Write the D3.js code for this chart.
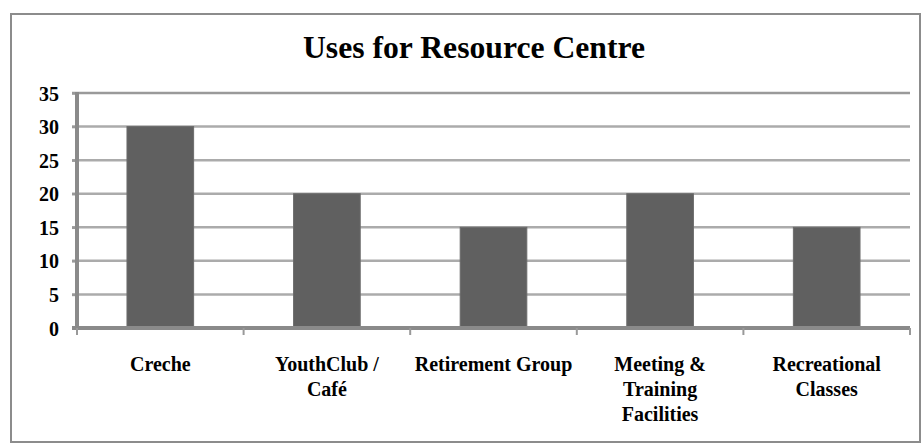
<!DOCTYPE html>
<html>
<head>
<meta charset="utf-8">
<script src="https://cdn.jsdelivr.net/npm/d3@7"></script>
<style>
  html, body { margin: 0; padding: 0; background: #fff; }
  svg { display: block; }
</style>
</head>
<body>
<svg id="chart" width="922" height="446"></svg>
<script>
const title = "Uses for Resource Centre";
const categories = ["Creche", "Youth Club / Café", "Retirement Group", "Meeting & Training Facilities", "Recreational Classes"];
const categoryLines = [["Creche"], ["YouthClub /", "Café"], ["Retirement Group"], ["Meeting &", "Training", "Facilities"], ["Recreational", "Classes"]];
const values = [30, 20, 15, 20, 15];
const yTicks = [0, 5, 10, 15, 20, 25, 30, 35];

const FONT = "'Liberation Serif', 'DejaVu Serif', serif";
const svg = d3.select("#chart");
const W = 922, H = 446;
const margin = { left: 77, right: 12, top: 93, bottom: 118 };
const plotW = W - margin.left - margin.right;
const plotH = H - margin.top - margin.bottom;

// outer frame
svg.append("rect")
  .attr("x", 11).attr("y", 14).attr("width", 909).attr("height", 428)
  .attr("fill", "#fff").attr("stroke", "#8c8c8c").attr("stroke-width", 2);

// title
svg.append("text")
  .attr("x", 474).attr("y", 58)
  .attr("text-anchor", "middle")
  .style("font-family", FONT).style("font-weight", "bold").style("font-size", "31px")
  .attr("fill", "#000")
  .attr("textLength", 342)
  .attr("lengthAdjust", "spacingAndGlyphs")
  .text(title);

const g = svg.append("g").attr("transform", `translate(${margin.left},${margin.top})`);

const x = d3.scaleBand().domain(categories).range([0, plotW]).paddingInner(0.6).paddingOuter(0.3);
const xb = d3.scaleBand().domain(categories).range([0, plotW]);
const y = d3.scaleLinear().domain([0, 35]).range([plotH, 0]);

// gridlines
g.append("g").selectAll("line").data(yTicks.filter(d => d > 0)).join("line")
  .attr("x1", -5).attr("x2", plotW)
  .attr("y1", d => y(d)).attr("y2", d => y(d))
  .attr("stroke", d => d === 35 ? "#9a9a9a" : "#ababab")
  .attr("stroke-width", 2.5);

// bars
g.append("g").selectAll("rect").data(values).join("rect")
  .attr("x", (d, i) => x(categories[i]))
  .attr("y", d => y(d))
  .attr("width", x.bandwidth())
  .attr("height", d => y(0) - y(d))
  .attr("fill", "#606060")
  .attr("stroke", "#6c6c6c")
  .attr("stroke-width", 1);

// y axis
const yAxis = d3.axisLeft(y).tickValues(yTicks).tickSize(5).tickPadding(13);
const ya = g.append("g").call(yAxis);
ya.select(".domain").remove();
ya.selectAll(".tick line").attr("stroke", "#999").attr("stroke-width", 2.5);
ya.selectAll(".tick text")
  .style("font-family", FONT)
  .style("font-weight", "bold")
  .style("font-size", "20px")
  .attr("fill", "#000")
  .attr("dy", "0.35em");

g.append("line")
  .attr("x1", 0).attr("x2", 0).attr("y1", y(35) - 1).attr("y2", y(0) + 2)
  .attr("stroke", "#8a8a8a").attr("stroke-width", 4);

// x axis
g.append("line")
  .attr("x1", -5).attr("x2", plotW).attr("y1", y(0)).attr("y2", y(0))
  .attr("stroke", "#8a8a8a").attr("stroke-width", 4);

const boundaries = categories.map(c => xb(c)).concat([plotW]);
g.append("g").selectAll("line").data(boundaries).join("line")
  .attr("x1", d => d).attr("x2", d => d)
  .attr("y1", y(0)).attr("y2", y(0) + 7)
  .attr("stroke", "#999").attr("stroke-width", 2);

// category labels
const lab = g.append("g").selectAll("text").data(categories).join("text")
  .attr("x", c => xb(c) + xb.bandwidth() / 2)
  .attr("y", plotH + 43)
  .attr("text-anchor", "middle")
  .attr("fill", "#000")
  .style("font-family", FONT).style("font-weight", "bold").style("font-size", "20px");
lab.each(function(c, i) {
  d3.select(this).selectAll("tspan").data(categoryLines[i]).join("tspan")
    .attr("x", xb(c) + xb.bandwidth() / 2)
    .attr("dy", (d, j) => j === 0 ? 0 : 25)
    .text(d => d);
});
</script>
</body>
</html>
